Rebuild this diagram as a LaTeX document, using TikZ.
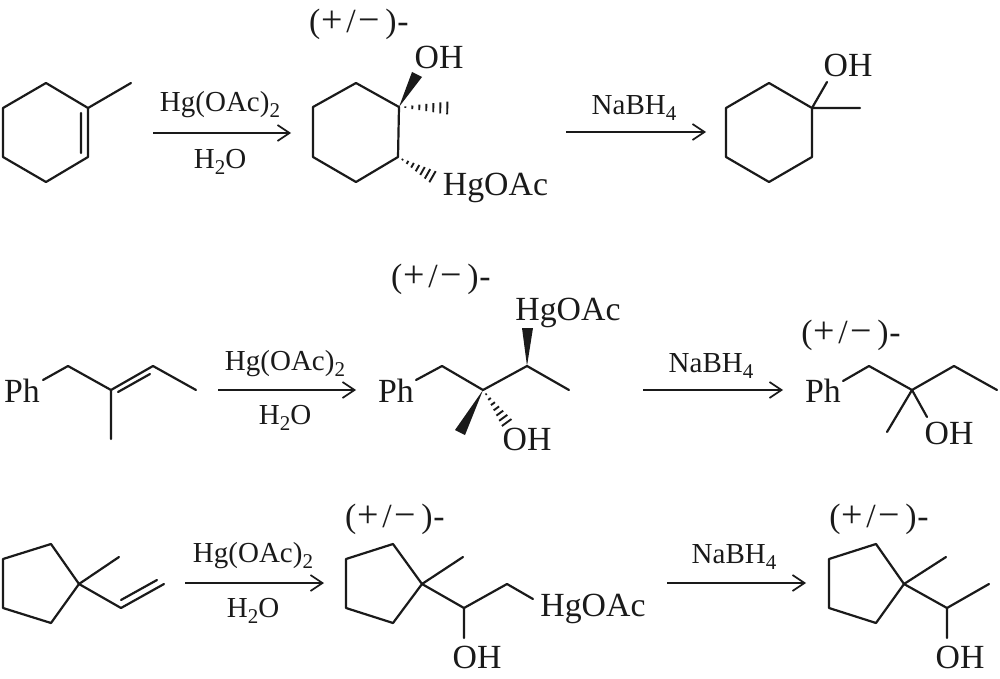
\documentclass[tikz,border=0pt]{standalone}
\usepackage{fontspec}
\usetikzlibrary{arrows.meta,calc}
\setmainfont{Liberation Serif}
\newcommand{\lab}{\fontsize{33.8}{34}\selectfont}
\newcommand{\rea}{\fontsize{29}{30}\selectfont}
\newcommand{\bigop}[1]{{\fontsize{38}{38}\selectfont #1}}
\newcommand{\rac}{(\kern1pt\bigop{+}\kern3.5pt/\kern3pt\bigop{−}\kern5pt)\kern1pt-}
\newcommand{\subt}[1]{\raisebox{-6pt}{\fontsize{21}{21}\selectfont #1}}
\definecolor{ink}{HTML}{1A1A1A}
\tikzset{
  bond/.style={line width=2.2pt,draw=ink,line cap=round,line join=round},
  rxn/.style={line width=1.9pt,draw=ink,-{Straight Barb[length=12pt,width=16pt,line width=1.7pt]}},
  atomlab/.style={font=\lab,text=ink,inner sep=0pt,anchor=base},
  reagent/.style={font=\rea,text=ink,inner sep=0pt,anchor=base},
  wedgeb/.style={fill=ink,draw=none},
  hashb/.style={line width=1.9pt,draw=ink}
}
% hashed bond: from tip #1 to end #2, half width at end #3, n lines #4
\newcommand{\hashed}[4]{%
  \foreach \i in {1,...,#4}{%
    \pgfmathsetmacro{\tf}{(\i-0.1)/#4}%
    \draw[hashb] let \p1=($(#1)!\tf!(#2)$) in
      ($(\p1)!\tf*#3pt!90:(#2)$) -- ($(\p1)!\tf*#3pt!-90:(#2)$);
  }}
\begin{document}
\begin{tikzpicture}[x=1pt,y=-1pt]
\useasboundingbox (0,0) rectangle (1000,679);
% ---------- row 1 ----------
\coordinate (a1) at (3,108); \coordinate (a2) at (46,83); \coordinate (a3) at (88,108);
\coordinate (a4) at (88,157); \coordinate (a5) at (46,182); \coordinate (a6) at (3,157);
\coordinate (a7) at (131,83); \coordinate (a8) at (81,113); \coordinate (a9) at (81,153);
\draw[bond] (a1)--(a2)--(a3)--(a4)--(a5)--(a6)--cycle (a3)--(a7) (a8)--(a9);
\node[reagent] (r1t) at (220,112) {Hg(OAc)\subt{2}};
\node[reagent] (r1b) at (220,168) {H\subt{2}O};
\coordinate (r1s) at (153,133); \coordinate (r1e) at (291,133);
\draw[rxn] (r1s)--(r1e);
\coordinate (b1) at (313,107); \coordinate (b2) at (356,83); \coordinate (b3) at (399,107);
\coordinate (b4) at (398,157); \coordinate (b5) at (356,182); \coordinate (b6) at (313,157);
\draw[bond] (b1)--(b2)--(b3)--(b4)--(b5)--(b6)--cycle;
\node[atomlab] (b7) at (359,33) {\rac};
\node[atomlab] (b8) at (439,69) {OH};
\node[atomlab] (b9) at (495.5,195) {HgOAc};
\coordinate (b11) at (448,108);
\coordinate (b12) at (433,177);
\fill[wedgeb] (b3)--(422,77)--(412,72)--cycle;
\hashed{b3}{b11}{6.5}{7}
\hashed{b4}{b12}{6.5}{7}
\node[reagent] (r2t) at (634,115) {NaBH\subt{4}};
\coordinate (r2s) at (566,132); \coordinate (r2e) at (706,132);
\draw[rxn] (r2s)--(r2e);
\coordinate (c1) at (726,108); \coordinate (c2) at (769,83); \coordinate (c3) at (812,108);
\coordinate (c4) at (812,157); \coordinate (c5) at (769,182); \coordinate (c6) at (726,157);
\coordinate (c7) at (860,108); \coordinate (c8) at (827,82);
\draw[bond] (c1)--(c2)--(c3)--(c4)--(c5)--(c6)--cycle (c3)--(c7) (c3)--(c8);
\node[atomlab] (c9) at (848,77) {OH};
% ---------- row 2 ----------
\node[atomlab] (d1) at (22,402) {Ph};
\coordinate (d2) at (43,380); \coordinate (d3) at (68,366); \coordinate (d4) at (111,390);
\coordinate (d5) at (153,366); \coordinate (d6) at (196,390); \coordinate (d7) at (111,439);
\coordinate (d8) at (118,392); \coordinate (d9) at (150,374);
\draw[bond] (d2)--(d3)--(d4)--(d5)--(d6) (d4)--(d7) (d8)--(d9);
\node[reagent] (r3t) at (285,370) {Hg(OAc)\subt{2}};
\node[reagent] (r3b) at (285,424) {H\subt{2}O};
\coordinate (r3s) at (218,390); \coordinate (r3e) at (356,390);
\draw[rxn] (r3s)--(r3e);
\node[atomlab] (e1) at (396,402) {Ph};
\coordinate (e2) at (416,380); \coordinate (e3) at (442,366); \coordinate (e4) at (483,390);
\coordinate (e5) at (527,366); \coordinate (e6) at (569,390);
\draw[bond] (e2)--(e3)--(e4)--(e5)--(e6);
\fill[wedgeb] (e5)--(533,328)--(522,328)--cycle;
\fill[wedgeb] (e4)--(465,435)--(455,430)--cycle;
\coordinate (e7) at (507,423);
\hashed{e4}{e7}{6}{7}
\node[atomlab] (e8) at (441,287) {\rac};
\node[atomlab] (e9) at (568,320) {HgOAc};
\node[atomlab] (e10) at (527,450) {OH};
\node[reagent] (r4t) at (711,372) {NaBH\subt{4}};
\coordinate (r4s) at (643,390); \coordinate (r4e) at (783,390);
\draw[rxn] (r4s)--(r4e);
\node[atomlab] (f1) at (823,402) {Ph};
\coordinate (f2) at (843,381); \coordinate (f3) at (869,366); \coordinate (f4) at (912,390);
\coordinate (f5) at (954,366); \coordinate (f6) at (997,390); \coordinate (f7) at (887,432);
\coordinate (f8) at (927,417);
\draw[bond] (f2)--(f3)--(f4)--(f5)--(f6) (f4)--(f7) (f4)--(f8);
\node[atomlab] (f9) at (851,343) {\rac};
\node[atomlab] (f10) at (949,444) {OH};
% ---------- row 3 ----------
\coordinate (g1) at (3,559); \coordinate (g2) at (51,544); \coordinate (g3) at (79,584);
\coordinate (g4) at (51,623); \coordinate (g5) at (3,608); \coordinate (g6) at (119,557);
\coordinate (g7) at (121,608); \coordinate (g8) at (164,584); \coordinate (g9) at (121,600); \coordinate (g10) at (157,580);
\draw[bond] (g1)--(g2)--(g3)--(g4)--(g5)--cycle (g3)--(g6) (g3)--(g7)--(g8) (g9)--(g10);
\node[reagent] (r5t) at (253,562) {Hg(OAc)\subt{2}};
\node[reagent] (r5b) at (253,617) {H\subt{2}O};
\coordinate (r5s) at (185,583); \coordinate (r5e) at (324,583);
\draw[rxn] (r5s)--(r5e);
\coordinate (h1) at (346,559); \coordinate (h2) at (393,544); \coordinate (h3) at (422,584);
\coordinate (h4) at (393,623); \coordinate (h5) at (346,608); \coordinate (h6) at (463,557);
\coordinate (h7) at (464,608); \coordinate (h8) at (507,584); \coordinate (h9) at (533,599); \coordinate (h10) at (464,638);
\draw[bond] (h1)--(h2)--(h3)--(h4)--(h5)--cycle (h3)--(h6) (h3)--(h7)--(h8)--(h9) (h7)--(h10);
\node[atomlab] (h11) at (395,527) {\rac};
\node[atomlab] (h12) at (593,616) {HgOAc};
\node[atomlab] (h13) at (477,668) {OH};
\node[reagent] (r6t) at (734,563) {NaBH\subt{4}};
\coordinate (r6s) at (667,583); \coordinate (r6e) at (806,583);
\draw[rxn] (r6s)--(r6e);
\coordinate (k1) at (829,559); \coordinate (k2) at (876,544); \coordinate (k3) at (904,584);
\coordinate (k4) at (876,623); \coordinate (k5) at (829,608); \coordinate (k6) at (946,557);
\coordinate (k7) at (947,608); \coordinate (k8) at (989,584); \coordinate (k9) at (947,638);
\draw[bond] (k1)--(k2)--(k3)--(k4)--(k5)--cycle (k3)--(k6) (k3)--(k7)--(k8) (k7)--(k9);
\node[atomlab] (k10) at (879,527) {\rac};
\node[atomlab] (k11) at (960,668) {OH};
\end{tikzpicture}
\end{document}
